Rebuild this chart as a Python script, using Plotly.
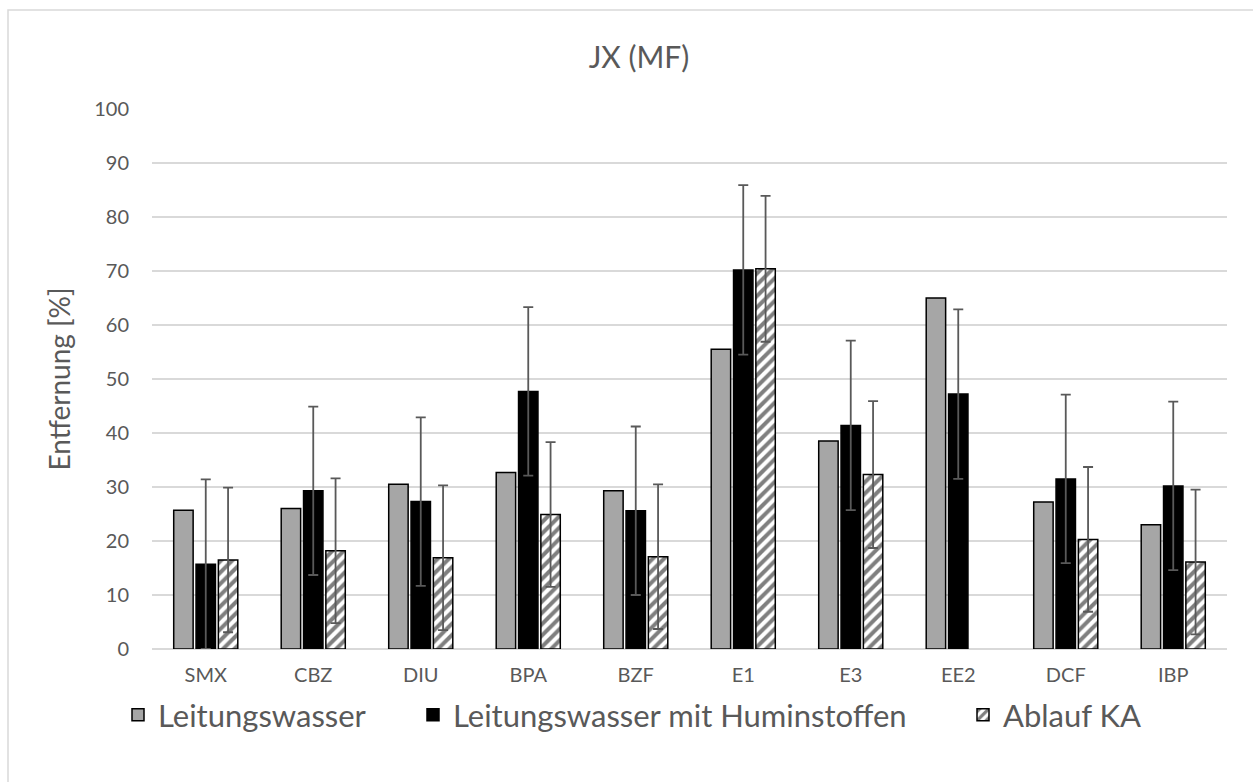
import plotly.graph_objects as go

categories = ["SMX", "CBZ", "DIU", "BPA", "BZF", "E1", "E3", "EE2", "DCF", "IBP"]

leitungswasser = [25.7, 26.0, 30.5, 32.7, 29.3, 55.5, 38.5, 65.0, 27.2, 23.0]

huminstoffe = [15.7, 29.3, 27.3, 47.7, 25.6, 70.2, 41.4, 47.2, 31.5, 30.2]
huminstoffe_err = [15.7, 15.6, 15.6, 15.6, 15.6, 15.7, 15.7, 15.7, 15.6, 15.6]

ablauf_ka = [16.5, 18.2, 16.9, 24.9, 17.1, 70.4, 32.3, None, 20.3, 16.1]
ablauf_ka_err = [13.4, 13.4, 13.4, 13.4, 13.4, 13.5, 13.6, None, 13.4, 13.4]

y_ticks = [0, 10, 20, 30, 40, 50, 60, 70, 80, 90, 100]

FONT = "Lato"
TEXT = "#595959"
ERR = dict(type="data", visible=True, color="#595959", thickness=1.8, width=5)

W, H = 1253, 782
L, R, T, B = 152, 26, 109, 133
PW, PH = W - L - R, H - T - B


def px_x(px):
    return (px - L) / PW


def px_y(py):
    return (H - B - py) / PH


fig = go.Figure()

fig.add_trace(go.Bar(
    name="Leitungswasser", x=categories, y=leitungswasser, legend="legend",
    marker=dict(color="#A6A6A6", line=dict(color="#000000", width=1.5)),
))
fig.add_trace(go.Bar(
    name="Leitungswasser mit Huminstoffen", x=categories, y=huminstoffe,
    legend="legend2",
    marker=dict(color="#000000", line=dict(color="#000000", width=1.5)),
    error_y=dict(array=huminstoffe_err, **ERR),
))
fig.add_trace(go.Bar(
    name="Ablauf KA", x=categories, y=ablauf_ka, legend="legend3",
    marker=dict(color="#FFFFFF", line=dict(color="#000000", width=1.5),
                pattern=dict(shape="/", fgcolor="#000000", bgcolor="#FFFFFF",
                             size=8, solidity=0.5)),
    error_y=dict(array=ablauf_ka_err, **ERR),
))

# thin frame around the chart area
fig.add_shape(type="rect", xref="paper", yref="paper",
              x0=px_x(8), x1=px_x(1275), y0=px_y(800), y1=px_y(10),
              line=dict(color="#D9D9D9", width=1.5), fillcolor="rgba(0,0,0,0)",
              layer="below")

legend_font = dict(size=31, color=TEXT, family=FONT)


def legend_at(px_left):
    return dict(orientation="h", x=px_x(px_left), xanchor="left",
                y=px_y(715), yanchor="middle", font=legend_font,
                bgcolor="rgba(0,0,0,0)", itemwidth=30)


fig.update_layout(
    width=W, height=H,
    margin=dict(l=L, r=R, t=T, b=B),
    paper_bgcolor="#FFFFFF", plot_bgcolor="#FFFFFF",
    font=dict(family=FONT, color=TEXT),
    title=dict(text="JX (MF)", xref="container", x=639 / W, xanchor="center",
               y=1 - 57 / H, yanchor="middle",
               font=dict(size=30, color=TEXT, family=FONT)),
    barmode="group", bargap=0.377, bargroupgap=0.13,
    showlegend=True,
    legend=legend_at(118),
    legend2=legend_at(413),
    legend3=legend_at(963),
    xaxis=dict(showgrid=False, showline=False, ticks="", ticklabelstandoff=12,
               tickfont=dict(size=20, color=TEXT, family=FONT)),
    yaxis=dict(range=[0, 100], tickvals=y_ticks, showgrid=True,
               gridcolor="#D9D9D9", gridwidth=1.5, zeroline=True,
               zerolinecolor="#D9D9D9", zerolinewidth=1.5, showline=False,
               ticks="", ticklabelstandoff=22,
               tickfont=dict(size=20, color=TEXT, family=FONT),
               title=dict(text="Entfernung [%]", standoff=15,
                          font=dict(size=28, color=TEXT, family=FONT))),
)

fig.write_html("out.html")
